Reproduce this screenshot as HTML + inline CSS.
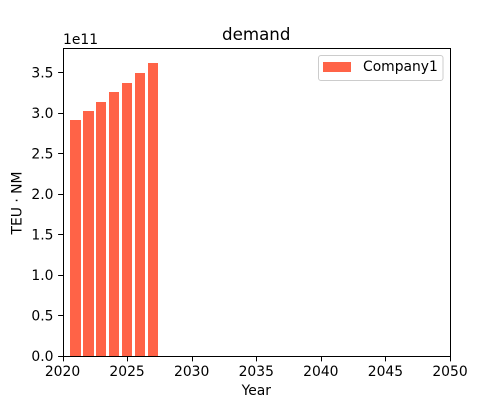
<!DOCTYPE html>
<html>
<head>
<meta charset="utf-8">
<title>demand</title>
<style>
html,body{margin:0;padding:0;background:#fff;width:500px;height:400px;overflow:hidden}
svg{display:block}
text{font-family:"DejaVu Sans","Liberation Sans",sans-serif;fill:#000;font-size:13.89px}
</style>
</head>
<body>
<svg id="chart" xmlns="http://www.w3.org/2000/svg" width="500" height="400" viewBox="0 0 500 400"></svg>
<script>
const years = [2021, 2022, 2023, 2024, 2025, 2026, 2027];
const demand = [2.91e11, 3.025e11, 3.135e11, 3.26e11, 3.37e11, 3.495e11, 3.62e11];
const xTickValues = [2020, 2025, 2030, 2035, 2040, 2045, 2050];
const yTickValues = [0, 0.5e11, 1e11, 1.5e11, 2e11, 2.5e11, 3e11, 3.5e11];
const yTickLabels = ['0.0', '0.5', '1.0', '1.5', '2.0', '2.5', '3.0', '3.5'];
const seriesName = 'Company1';

const svg = document.getElementById('chart');
const NS = 'http://www.w3.org/2000/svg';
const L = 62.5, R = 450, T = 48, B = 356;
const xMin = 2020, xMax = 2050, yMin = 0, yMax = 3.8e11;
const barWidth = 0.8;
const X = v => L + (v - xMin) / (xMax - xMin) * (R - L);
const Y = v => B - (v - yMin) / (yMax - yMin) * (B - T);

function make(tag, props, text) {
  const el = document.createElementNS(NS, tag);
  for (const k in props) el.setAttribute(k, props[k]);
  if (text !== undefined) el.textContent = text;
  svg.appendChild(el);
  return el;
}

years.forEach((yr, i) => {
  const x0 = Math.round(X(yr - barWidth / 2));
  const x1 = Math.round(X(yr + barWidth / 2));
  const y0 = Math.round(Y(demand[i]));
  const bar = make('rect', {x: x0, y: y0, width: x1 - x0, height: B - y0, fill: '#ff6347'});
  
  
});

xTickValues.forEach(v => {
  const px = Math.floor(X(v) + 0.5) + 0.5;
  const tick = make('line', {x1: px, x2: px, y1: B, y2: B + 5.4, stroke: '#000', 'stroke-width': 1});
  
  
  const label = make('text', {x: X(v), y: 376, 'text-anchor': 'middle'}, String(v));
  
  
});

yTickValues.forEach((v, i) => {
  const py = Math.round(Y(v)) + 0.5;
  const tick = make('line', {x1: L - 4.4, x2: L + 1, y1: py, y2: py, stroke: '#000', 'stroke-width': 1});
  
  
  const label = make('text', {x: 53.5, y: Y(v) + 5.2, 'text-anchor': 'end'}, yTickLabels[i]);
  
  
});

const frame = make('rect', {x: 63.5, y: 48.5, width: 387, height: 308, fill: 'none', stroke: '#000', 'stroke-width': 1});



const offset = make('text', {x: 63, y: 44}, '1e11');



const title = make('text', {x: 256.25, y: 40, 'text-anchor': 'middle', style: 'font-size:16.67px'}, 'demand');



const xTitle = make('text', {x: 256.25, y: 395, 'text-anchor': 'middle'}, 'Year');



const yTitle = make('text', {x: 21.5, y: 203, 'text-anchor': 'middle', transform: 'rotate(-90 21.5 203)'}, 'TEU \u00b7 NM');



const legendBox = make('rect', {x: 318.5, y: 55.5, width: 124.5, height: 25, rx: 2.5, ry: 2.5, fill: '#fff', 'fill-opacity': 0.8, stroke: '#ccc', 'stroke-width': 1});



const legendSwatch = make('rect', {x: 323, y: 62, width: 28, height: 10, fill: '#ff6347'});



const legendLabel = make('text', {x: 363, y: 71}, seriesName);


</script>
</body>
</html>
